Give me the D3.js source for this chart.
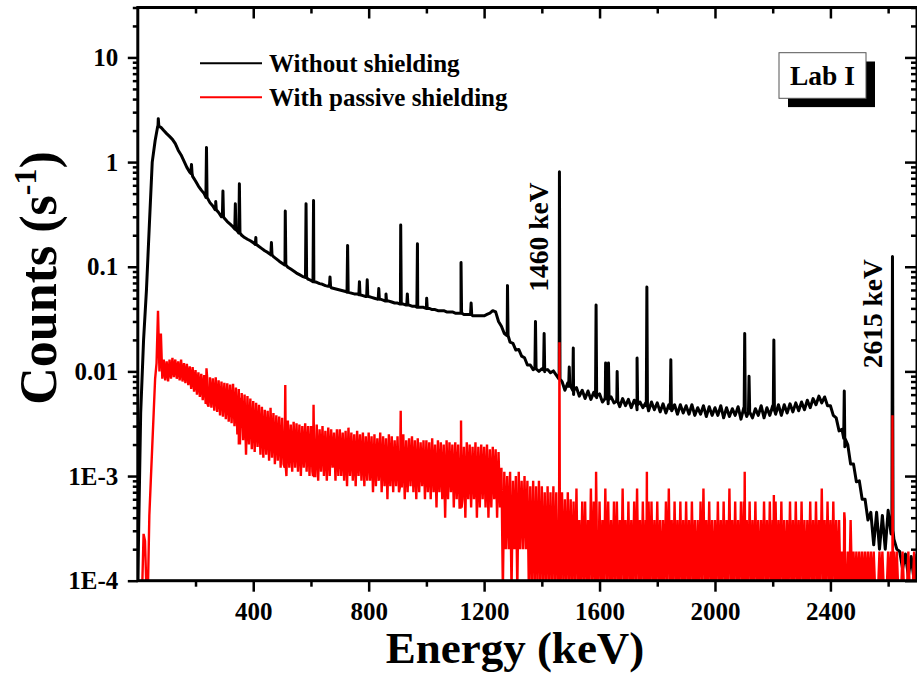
<!DOCTYPE html>
<html><head><meta charset="utf-8">
<script src="https://cdn.jsdelivr.net/npm/d3@7"></script>
<style>
body{margin:0;background:#fff}
svg{display:block}
text{font-family:"Liberation Serif","Times New Roman",serif;font-weight:bold;fill:#000}
</style>
</head><body>
<svg id="c" width="917" height="677"></svg>
<script>
// ---------------- data ----------------
const energyDomain = [0, 2700];
const countsDomain = [1e-4, 30];
const stepKeV = 10;
const xMajorTicks = [400, 800, 1200, 1600, 2000, 2400];
const xMinorTicks = [200, 600, 1000, 1400, 1800, 2200, 2600];
const yMajorTicks = [1e-4, 1e-3, 1e-2, 1e-1, 1, 10];
const yTickLabels = ["1E-4", "1E-3", "0.01", "0.1", "1", "10"];
const seriesNames = ["Without shielding", "With passive shielding"];
const seriesColors = ["#000000", "#ff0000"];
const peakLabels = ["1460 keV", "2615 keV"];
const boxLabel = "Lab I";

// black spectrum (without shielding), continuum every 10 keV from 0 keV
const blackCounts = [
 1e-4,0.004,0.02,0.06,0.25,1.0,1.6,2.2,2.15,2.0,
 1.87,1.76,1.65,1.5,1.3,1.17,1.02,0.89,0.80,0.73,
 0.66,0.59,0.54,0.50,0.46,0.41,0.38,0.35,0.33,0.30,
 0.29,0.27,0.255,0.24,0.225,0.21,0.20,0.19,0.183,0.177,
 0.17,0.163,0.156,0.149,0.142,0.137,0.131,0.125,0.119,0.113,
 0.108,0.104,0.099,0.095,0.091,0.087,0.084,0.081,0.079,0.076,
 0.074,0.072,0.071,0.069,0.068,0.066,0.065,0.063,0.062,0.061,
 0.060,0.059,0.058,0.057,0.056,0.055,0.055,0.054,0.053,0.052,
 0.052,0.051,0.050,0.049,0.049,0.048,0.047,0.047,0.046,0.045,
 0.045,0.044,0.044,0.043,0.043,0.042,0.042,0.041,0.041,0.041,
 0.040,0.040,0.039,0.039,0.038,0.038,0.038,0.037,0.037,0.037,
 0.036,0.036,0.036,0.035,0.035,0.035,0.034,0.034,0.034,0.034,
 0.034,0.035,0.036,0.038,0.037,0.030,0.027,0.023,0.023,0.019,
 0.0185,0.016,0.0162,0.014,0.0135,0.0115,0.0115,0.0104,0.011,0.0100,
 0.0106,0.0099,0.0104,0.0097,0.0101,0.0092,0.0095,0.0080,0.0066,0.0078,
 0.0072,0.0060,0.0070,0.0058,0.0066,0.0055,0.0065,0.0054,0.0063,0.0056,
 0.0061,0.0051,0.0060,0.0049,0.0057,0.0050,0.0056,0.0046,0.0055,0.0047,
 0.0054,0.0045,0.0053,0.0043,0.0051,0.0045,0.0050,0.0042,0.0051,0.0043,
 0.0050,0.0041,0.0049,0.0040,0.0048,0.0042,0.0048,0.0039,0.0048,0.0040,
 0.0047,0.0039,0.0048,0.0038,0.0045,0.0039,0.0047,0.0037,0.0046,0.0038,
 0.0045,0.0038,0.0047,0.0036,0.0045,0.0037,0.0044,0.0038,0.0046,0.0035,
 0.0045,0.0037,0.0046,0.0036,0.0044,0.0038,0.0047,0.0036,0.0045,0.0038,
 0.0047,0.0039,0.0048,0.0038,0.0048,0.0040,0.0049,0.0041,0.0050,0.0042,
 0.0051,0.0043,0.0053,0.0045,0.0055,0.0048,0.0058,0.0050,0.0057,0.0047,
 0.0047,0.0038,0.0036,0.0027,0.0028,0.0019,0.0020,0.0013,0.0013,0.00088,
 0.0009,0.0006,0.0006,0.00038,0.00045,0.00022,0.00045,0.0002,0.00042,0.0002,
 0.00047,0.00028,0.00025,0.0002,0.00019,0.00013,0.00018,0.00011,0.00017,0.0001,
 0.00018
];
// black gamma lines: [energy keV, peak counts, base counts]
const blackPeaks = [
 [71,2.6,2.2],[186,0.95,0.78],[238,1.38,0.46],[270,0.42,0.35],[295,0.53,0.30],
 [338,0.40,0.23],[352,0.62,0.21],[409,0.19,0.163],[463,0.17,0.13],[511,0.34,0.104],
 [583,0.40,0.079],[609,0.43,0.072],[666,0.08,0.065],[727,0.16,0.057],[768,0.072,0.054],
 [795,0.075,0.052],[835,0.062,0.049],[860,0.055,0.047],[911,0.25,0.044],[934,0.055,0.043],
 [969,0.166,0.041],[1001,0.05,0.040],[1120,0.11,0.036],[1155,0.045,0.035],[1281,0.066,0.022],
 [1378,0.030,0.0106],[1408,0.023,0.0103],[1461,0.81,0.0085],[1495,0.011,0.0072],[1509,0.0167,0.0066],
 [1588,0.043,0.0058],[1621,0.012,0.0055],[1631,0.012,0.0054],[1661,0.010,0.0052],[1730,0.0134,0.0048],
 [1764,0.064,0.0047],[1847,0.0129,0.0044],[2103,0.023,0.0041],[2118,0.009,0.0041],[2204,0.020,0.0043],
 [2448,0.0065,0.0023],[2615,0.125,0.0003]
];
// red spectrum (with passive shielding): [high, low] per 10 keV bin from 0 keV (0 = no counts)
const redCounts = [
 [0,0],[0,0],[2.8e-4,2.4e-4],[0,0],[4.2e-4,9e-4],[0.0019,0.004],[0.0085,0.012],[0.038,0.010],[0.023,0.0085],[0.013,0.0082],
 [0.0125,0.008],[0.013,0.0085],[0.0135,0.0088],[0.013,0.0085],[0.0125,0.0082],[0.013,0.008],[0.012,0.0077],[0.0118,0.0074],[0.0112,0.0068],[0.011,0.0064],
 [0.0103,0.006],[0.0098,0.0057],[0.0095,0.0053],[0.0092,0.005],[0.009,0.0046],[0.0088,0.0045],[0.0086,0.0042],[0.0088,0.0041],[0.0082,0.0038],[0.008,0.0037],
 [0.0078,0.0035],[0.0077,0.0033],[0.0075,0.0032],[0.0076,0.003],[0.007,0.0025],[0.0068,0.0028],[0.0062,0.0022],[0.006,0.0016],[0.0058,0.002],[0.0055,0.0018],
 [0.0052,0.0017],[0.005,0.0019],[0.0048,0.0016],[0.0046,0.0015],[0.0043,0.0016],[0.0042,0.0014],[0.0045,0.0015],[0.004,0.0013],[0.0038,0.0014],[0.0037,0.0012],
 [0.0036,0.0013],[0.0035,0.001],[0.0034,0.0012],[0.0031,0.0011],[0.0033,0.0012],[0.0032,0.0011],[0.0031,0.001],[0.003,0.0012],[0.0032,0.0011],[0.003,0.001],
 [0.003,0.0011],[0.0029,0.001],[0.0031,0.0009],[0.0028,0.0011],[0.003,0.001],[0.0027,0.0009],[0.0029,0.001],[0.0028,0.0012],[0.0026,0.0009],[0.0028,0.001],
 [0.0028,0.001],[0.0026,0.0009],[0.0027,0.0008],[0.0029,0.001],[0.0026,0.0009],[0.0025,0.0008],[0.0027,0.001],[0.0025,0.0009],[0.0026,0.0008],[0.0024,0.0009],
 [0.0026,0.0009],[0.0024,0.0007],[0.0025,0.0008],[0.0023,0.0009],[0.0026,0.0007],[0.0024,0.0008],[0.0023,0.0006],[0.0025,0.0008],[0.0024,0.0007],[0.0022,0.0008],
 [0.0024,0.0007],[0.0023,0.0008],[0.0025,0.0006],[0.0022,0.0007],[0.0023,0.0008],[0.0024,0.0007],[0.0022,0.0006],[0.0023,0.0007],[0.0021,0.0008],[0.0022,0.0006],
 [0.0022,0.0007],[0.0021,0.0006],[0.0023,0.0007],[0.002,0.0005],[0.0022,0.0007],[0.0021,0.0006],[0.002,0.0004],[0.0022,0.0006],[0.0021,0.0007],[0.002,0.0005],
 [0.0021,0.0006],[0.002,0.0005],[0.0022,0.0006],[0.0019,0.0004],[0.0021,0.0006],[0.002,0.0005],[0.0019,0.0006],[0.0021,0.0004],[0.0019,0.0005],[0.002,0.0006],
 [0.0019,0.0005],[0.002,0.0004],[0.0018,0.0005],[0.0019,0.0006],[0.0018,0.0004],[0.0017,0.0005],[0.0012,0],[0.0011,0.0002],[0.001,0.0002],[0.0011,0],
 [0.0009,0.0002],[0.001,0],[0.0011,0.0002],[0.0009,0.0002],[0.001,0.0002],[0.0009,0],[0.0008,0],[0.0009,0],[0.0008,0],[0.0009,0],
 [0.0008,0],[0.0007,0],[0.0008,0],[0.0007,0],[0.0008,0],[0.0007,0],[0.0006,0],[0.0007,0],[0.0006,0],[0.0007,0],
 [0.0006,0],[0.00057,0],[0.00076,0],[0.00038,0],[0.00057,0],[0.00057,0],[0.00038,0],[0.00076,0],[0.00057,0],[0.00038,0],
 [0.00057,0],[0.00038,0],[0.00076,0],[0.00057,0],[0.00038,0],[0.00057,0],[0.00057,0],[0.00038,0],[0.00076,0],[0.00038,0],
 [0.00057,0],[0.00038,0],[0.00057,0],[0.00076,0],[0.00038,0],[0.00057,0],[0.00038,0],[0.00057,0],[0.00057,0],[0.00038,0],
 [0.00057,0],[0.00038,0],[0.00038,0],[0.00057,0],[0.00076,0],[0.00038,0],[0.00057,0],[0.00038,0],[0.00057,0],[0.00038,0],
 [0.00057,0],[0.00038,0],[0.00057,0],[0.00038,0],[0.00038,0],[0.00057,0],[0.00076,0],[0.00038,0],[0.00057,0],[0.00038,0],
 [0.00038,0],[0.00057,0],[0.00038,0],[0.00057,0],[0.00038,0],[0.00076,0],[0.00038,0],[0.00057,0],[0.00038,0],[0.00057,0],
 [0.00057,0],[0.00038,0],[0.00057,0],[0.00038,0],[0.00057,0],[0.00038,0],[0.00038,0],[0.00057,0],[0.00038,0],[0.00057,0],
 [0.00038,0],[0.00057,0],[0.00038,0],[0.00057,0],[0.00038,0],[0.00038,0],[0.00057,0],[0.00038,0],[0.00057,0],[0.00038,0],
 [0.00057,0],[0.00038,0],[0.00038,0],[0.00057,0],[0.00038,0],[0.00057,0],[0.00038,0],[0.00076,0],[0.00038,0],[0.00057,0],
 [0.00038,0],[0.00057,0],[0.00038,0],[0.00038,0],[0.00019,0],[0.00038,0],[0.00019,0],[0.00038,0],[0.00019,0],[0.00019,0],
 [0.00019,0],[0.00019,0],[0.00019,0],[0.00019,0],[0.00019,0],[0.00019,0],[0,0],[0.00019,0],[0.00019,0],[0,0],
 [0.00019,0],[0.00019,0],[0.00019,0],[0.00019,0],[0,0],[0.00019,0],[0,0],[0.00019,0],[0,0],[0.00019,0],
 [0,0]
];
// red gamma lines: [energy keV, peak counts, base counts]
const redPeaks = [
 [238,0.0107,0.005],[352,0.0056,0.002],[511,0.0074,0.0012],[609,0.0048,0.001],[911,0.0042,0.0008],
 [1120,0.0034,0.0005],[1461,0.019,0],[1588,0.0011,0],[1764,0.0011,0],[2103,0.0011,0],
 [2204,0.00066,0],[2448,0.00045,0],[2615,0.0038,0]
];

// ---------------- layout ----------------
const L = 137.8, R = 917, T = 7.5, B = 580.7;
const svg = d3.select("#c");
const x = d3.scaleLinear().domain(energyDomain).range([L, R]);
const y = d3.scaleLog().domain(countsDomain).range([B, T]);
const yv = v => v > 0 ? y(v) : B + 10;

svg.append("defs").append("clipPath").attr("id", "clip")
  .append("rect").attr("x", L).attr("y", T).attr("width", R - L).attr("height", B - T);

function buildPoints(values, peaks, pairMode) {
  const pts = [];
  values.forEach((v, i) => {
    if (pairMode) { pts.push([i * stepKeV, v[0]], [i * stepKeV + stepKeV / 2, v[1]]); }
    else pts.push([i * stepKeV, v]);
  });
  peaks.forEach(([e, top, base]) => { pts.push([e - 2, base], [e, top], [e + 2, base]); });
  pts.sort((a, b) => a[0] - b[0]);
  return pts;
}
const blackPts = buildPoints(blackCounts, blackPeaks, false);
const redPts = buildPoints(redCounts, redPeaks, true);

const line = d3.line().x(d => x(d[0])).y(d => yv(d[1]));
const plot = svg.append("g").attr("clip-path", "url(#clip)");
plot.append("path").datum(blackPts).attr("d", line)
  .attr("fill", "none").attr("stroke", seriesColors[0]).attr("stroke-width", 3).attr("stroke-linejoin", "round");
plot.append("path").datum(redPts).attr("d", line)
  .attr("fill", "none").attr("stroke", seriesColors[1]).attr("stroke-width", 2.4).attr("stroke-linejoin", "miter");

// ---------------- axes ----------------
const minorY = [];
for (let k = -4; k <= 1; k++) for (let m = 2; m <= 9; m++) {
  const v = m * Math.pow(10, k);
  if (v <= countsDomain[1]) minorY.push(v);
}
function styleAxis(g) {
  g.select(".domain").remove();
  g.selectAll(".tick line").attr("stroke", "#000").attr("stroke-width", 2.5);
  g.selectAll("text").attr("font-size", 25).attr("font-family", '"Liberation Serif","Times New Roman",serif')
    .attr("font-weight", "bold").attr("fill", "#000");
}
svg.append("g").attr("transform", `translate(0,${B})`)
  .call(d3.axisBottom(x).tickValues(xMajorTicks).tickSize(11).tickPadding(11).tickFormat(d3.format("d"))).call(styleAxis);
svg.append("g").attr("transform", `translate(0,${B})`)
  .call(d3.axisBottom(x).tickValues(xMinorTicks).tickSize(6).tickFormat("")).call(styleAxis);
svg.append("g").attr("transform", `translate(0,${T})`)
  .call(d3.axisTop(x).tickValues(xMajorTicks).tickSize(-11).tickFormat("")).call(styleAxis);
svg.append("g").attr("transform", `translate(0,${T})`)
  .call(d3.axisTop(x).tickValues(xMinorTicks).tickSize(-6).tickFormat("")).call(styleAxis);
svg.append("g").attr("transform", `translate(${L},0)`)
  .call(d3.axisLeft(y).tickValues(yMajorTicks).tickSize(10).tickPadding(9.5)
    .tickFormat(d => yTickLabels[yMajorTicks.indexOf(d)])).call(styleAxis);
svg.append("g").attr("transform", `translate(${L},0)`)
  .call(d3.axisLeft(y).tickValues(minorY).tickSize(5).tickFormat("")).call(styleAxis);
svg.append("g").attr("transform", `translate(${R},0)`)
  .call(d3.axisRight(y).tickValues(yMajorTicks).tickSize(-12).tickFormat("")).call(styleAxis);
svg.append("g").attr("transform", `translate(${R},0)`)
  .call(d3.axisRight(y).tickValues(minorY).tickSize(-6).tickFormat("")).call(styleAxis);

svg.append("rect").attr("x", L).attr("y", T).attr("width", R - L).attr("height", B - T)
  .attr("fill", "none").attr("stroke", "#000").attr("stroke-width", 3);

// ---------------- titles ----------------
svg.append("text").attr("x", 515).attr("y", 663).attr("text-anchor", "middle")
  .attr("font-size", 45).text("Energy (keV)");
const yt = svg.append("text").attr("transform", "translate(56,278) rotate(-90)")
  .attr("text-anchor", "middle").attr("font-size", 52);
yt.append("tspan").text("Counts (s");
yt.append("tspan").attr("dy", -20).attr("font-size", 32).text("-1");
yt.append("tspan").attr("dy", 20).text(")");

// ---------------- legend ----------------
seriesNames.forEach((name, i) => {
  const ly = 63.3 + i * 34;
  svg.append("line").attr("x1", 200).attr("x2", 262).attr("y1", ly).attr("y2", ly)
    .attr("stroke", seriesColors[i]).attr("stroke-width", 2);
  svg.append("text").attr("x", 269).attr("y", ly + 8.5).attr("font-size", 25).text(name);
});

// ---------------- Lab box ----------------
svg.append("rect").attr("x", 788).attr("y", 61.5).attr("width", 87).attr("height", 45.6).attr("fill", "#000");
svg.append("rect").attr("x", 779).attr("y", 52.7).attr("width", 87).attr("height", 45.6)
  .attr("fill", "#fff").attr("stroke", "#555").attr("stroke-width", 1);
svg.append("text").attr("x", 822.5).attr("y", 85).attr("text-anchor", "middle").attr("font-size", 27.5).text(boxLabel);

// ---------------- peak annotations ----------------
const annPos = [[548, 291.7], [881.7, 368.3]];
peakLabels.forEach((t, i) => {
  svg.append("text").attr("transform", `translate(${annPos[i][0]},${annPos[i][1]}) rotate(-90)`)
    .attr("font-size", 27.5).text(t);
});
</script>
</body></html>
